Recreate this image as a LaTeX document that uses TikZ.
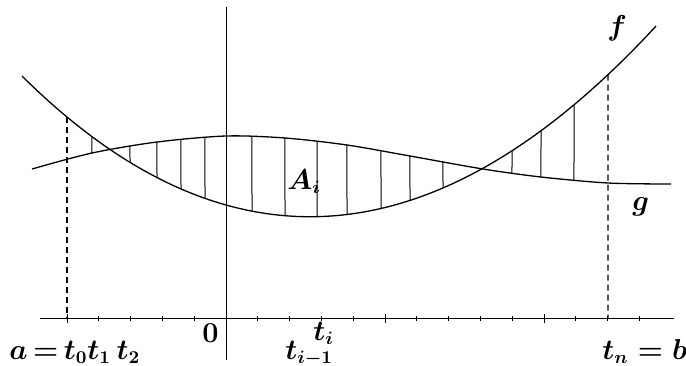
\documentclass[tikz,border=0pt]{standalone}
\usetikzlibrary{intersections}
\begin{document}
\begin{tikzpicture}[x=0.5pt,y=-0.5pt,
  curve/.style={line width=0.65pt},
  axisline/.style={line width=0.5pt},
  hatch/.style={line width=0.5pt},
  guide/.style={line width=0.6pt, dash pattern=on 3pt off 2pt},
  lbl/.style={inner sep=0pt, anchor=base west, font=\fontsize{13.5}{16}\selectfont\boldmath}]
\useasboundingbox (0,0) rectangle (686,365);
% axes
\coordinate (xl) at (40,318);
\coordinate (xr) at (674,318);
\coordinate (yt) at (226,7);
\coordinate (yb) at (226,360);
\draw[axisline] (xl) -- (xr);
\draw[axisline] (yt) -- (yb);
% ticks
\foreach \k in {-4,-3,-2,-1,1,2,3,4,6,7,8,9,11,12,13}
  \draw[axisline] ({226+31.8*\k},315.5) -- ({226+31.8*\k},320.5);
\foreach \k in {-5,5,10}
  \draw[axisline] ({226+31.8*\k},313.5) -- ({226+31.8*\k},322.5);
% curves
\draw[curve, name path=f] plot[domain=22:656, samples=120]
  (\x, {318 - (113 - 8.92*((\x-226)/31.8) + 1.7095*((\x-226)/31.8)^2 - 0.00528*((\x-226)/31.8)^3)});
\draw[curve, name path=g] plot[smooth] coordinates
  {(32,169) (92,153) (157,142) (226,136) (285,138) (347,145) (410,156) (483,169) (541,177) (608,183) (671,184)};
% hatching
\foreach \xx in {92,130,157,181,205,252,285,317,347,381,410,443,512,541,574} {
  \path[name path=v] (\xx,0) -- (\xx,365);
  \path[name intersections={of=f and v, by=pf}];
  \path[name intersections={of=g and v, by=pg}];
  \draw[hatch] (pf) -- (pg);
}
% dashed guides
\path[name path=va] (67,0) -- (67,365);
\path[name intersections={of=f and va, by=fa}];
\coordinate (ta) at (67,318);
\draw[guide] (fa) -- (ta);
\path[name path=vb] (608,0) -- (608,365);
\path[name intersections={of=f and vb, by=fb}];
\coordinate (tb) at (608,318);
\draw[guide] (fb) -- (tb);
% labels
\node[lbl] (la) at (9,359) {$a \mathrel{\mkern-2mu=\mkern-2mu} t_0 t_1\, t_2$};
\node[lbl] (l0) at (202,342) {$0$};
\node[lbl] (lim) at (285,359) {$t_{i-1}$};
\node[lbl] (li) at (313,340) {$t_i$};
\node[lbl] (ln) at (602,359) {$t_n = b$};
\node[lbl] (lf) at (607,35) {$f$};
\node[lbl] (lg) at (632,210) {$g$};
\node[lbl] (lA) at (287,189) {$A_i$};
\end{tikzpicture}
\end{document}
